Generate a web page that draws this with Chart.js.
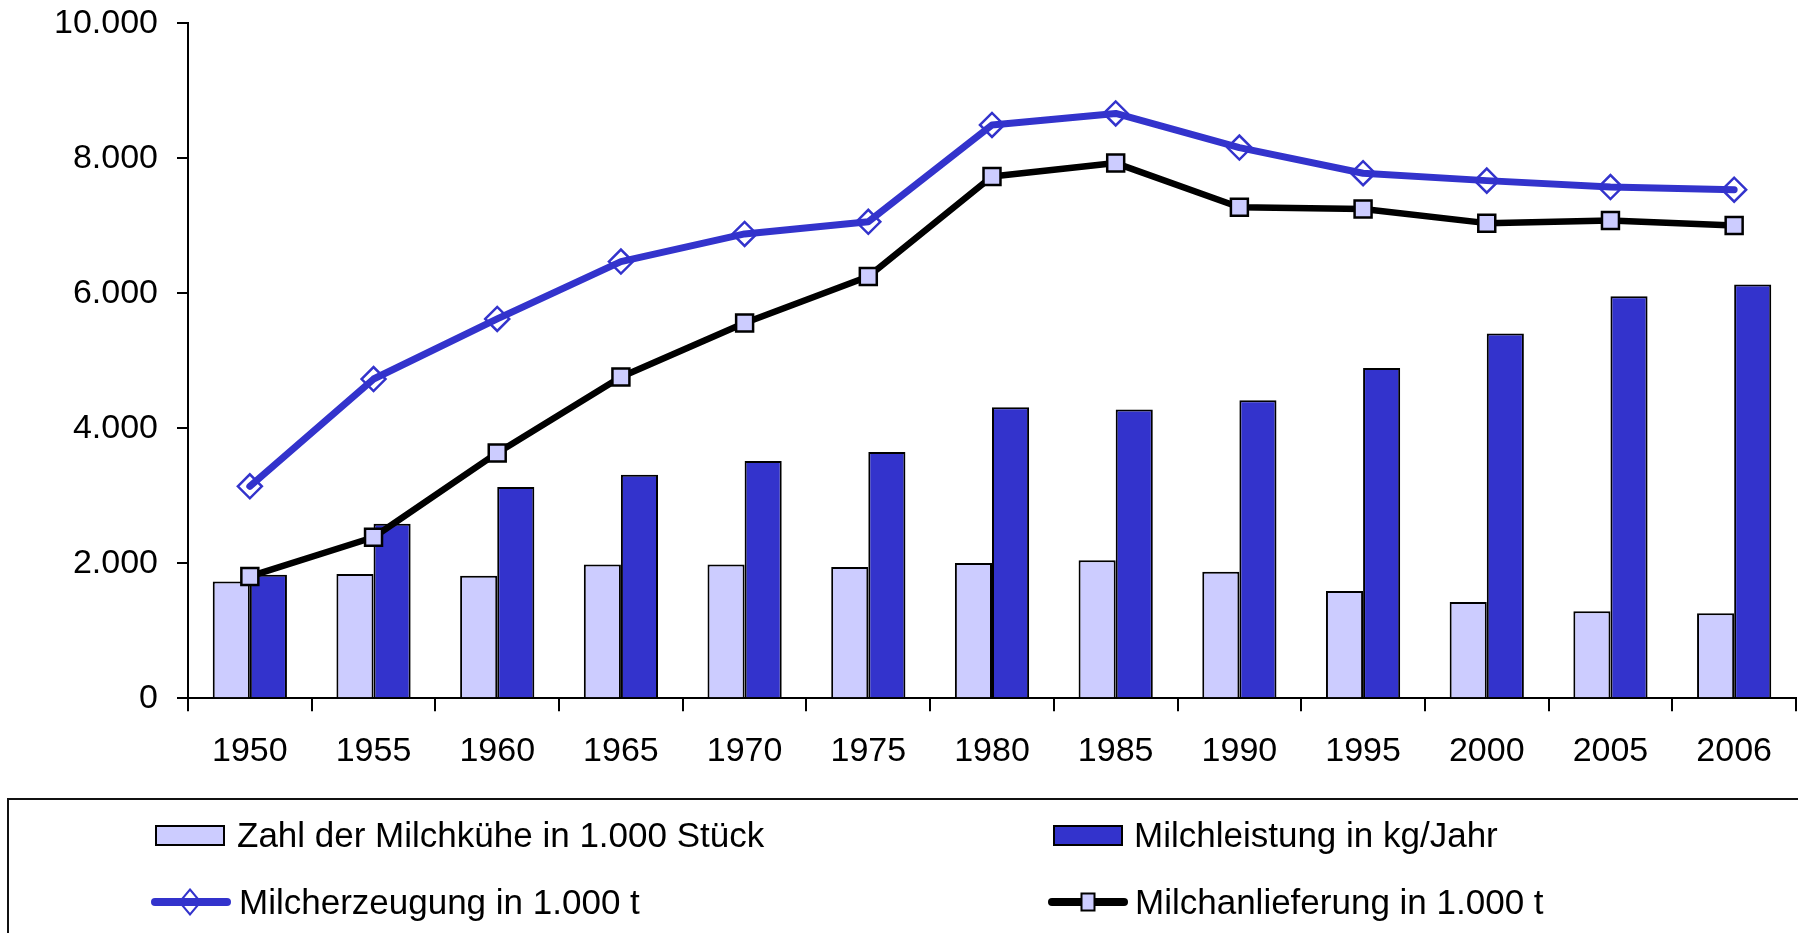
<!DOCTYPE html>
<html>
<head>
<meta charset="utf-8">
<script src="https://cdn.jsdelivr.net/npm/chart.js@4.4.1/dist/chart.umd.min.js"></script>
<style>
  html, body { margin:0; padding:0; background:#fff; }
  #wrap { position:relative; width:1798px; height:933px; overflow:hidden; background:#fff; }
  #c { position:absolute; left:0; top:-16px; }
  #legendBox { position:absolute; left:7px; top:798px; width:1850px; height:200px; box-sizing:border-box; border:2px solid #111; }
  .item { position:absolute; height:40px; display:flex; align-items:center; font-family:'Liberation Sans', Arial, sans-serif; font-size:35px; color:#000; white-space:nowrap; }
  .item .sw { flex:none; }
</style>
</head>
<body>
<div id="wrap">
  <canvas id="c" width="1798" height="949"></canvas>
  <div id="legendBox"></div>
</div>
<script>
// ---- data ----
const categories = ['1950','1955','1960','1965','1970','1975','1980','1985','1990','1995','2000','2005','2006'];
const kuehe      = [1730, 1840, 1815, 1980, 1980, 1945, 2005, 2045, 1875, 1590, 1425, 1290, 1260];
const leistung   = [1830, 2585, 3130, 3310, 3515, 3650, 4310, 4280, 4415, 4895, 5405, 5955, 6130];
const erzeugung  = [3140, 4730, 5620, 6470, 6880, 7060, 8495, 8665, 8160, 7780, 7670, 7575, 7535];
const anlieferung= [1805, 2385, 3635, 4760, 5560, 6250, 7730, 7930, 7275, 7250, 7040, 7080, 7005];
const yTickValues = [0, 2000, 4000, 6000, 8000, 10000];
const yTickLabels = ['0', '2.000', '4.000', '6.000', '8.000', '10.000'];
const seriesNames = ['Zahl der Milchkühe in 1.000 Stück', 'Milchleistung in kg/Jahr', 'Milcherzeugung in 1.000 t', 'Milchanlieferung in 1.000 t'];

const LIGHT = '#CCCCFF', DARK = '#3333CC', BLUE = '#3333CC', BLACK = '#000000';

Chart.defaults.font.family = "'Liberation Sans', Arial, sans-serif";
Chart.defaults.font.size = 34;
Chart.defaults.color = '#000';

const chart = new Chart(document.getElementById('c'), {
  type: 'bar',
  data: {
    labels: categories,
    datasets: [
      { type:'line', label: seriesNames[2], data: erzeugung, order: 0,
        borderColor: BLUE, borderWidth: 7, fill:false, tension:0,
        pointStyle:'rectRot', pointRadius: 12, pointBorderColor: BLUE, pointBackgroundColor:'rgba(0,0,0,0)', pointBorderWidth: 2.5,
        borderCapStyle:'round', borderJoinStyle:'round' },
      { type:'line', label: seriesNames[3], data: anlieferung, order: 0,
        borderColor: BLACK, borderWidth: 6.5, fill:false, tension:0,
        pointStyle:'rect', pointRadius: 12, pointBorderColor: BLACK, pointBackgroundColor: LIGHT, pointBorderWidth: 2.5,
        borderJoinStyle:'round' },
      { label: seriesNames[0], data: kuehe, order: 1, backgroundColor: LIGHT, borderColor: BLACK, borderWidth: 2,
        categoryPercentage: 0.6, barPercentage: 1.0 },
      { label: seriesNames[1], data: leistung, order: 1, backgroundColor: DARK, borderColor: BLACK, borderWidth: 2,
        categoryPercentage: 0.6, barPercentage: 1.0 }
    ]
  },
  options: {
    responsive: false,
    animation: false,
    devicePixelRatio: 1,
    layout: { autoPadding: false, padding: { left: 35, right: 2, top: 2, bottom: 141 } },
    plugins: { legend: { display:false }, tooltip: { enabled:false } },
    scales: {
      x: {
        offset: true,
        grid: { display:true, drawOnChartArea:false, offset:true, tickLength:13, color:'#000', lineWidth:2 },
        border: { display:true, color:'#000', width:2 },
        ticks: { padding: 20, maxRotation:0, autoSkip:false, color:'#000' }
      },
      y: {
        min: 0, max: 10000,
        afterBuildTicks: (axis) => { axis.ticks = yTickValues.map(v => ({ value: v })); },
        grid: { display:true, drawOnChartArea:false, tickLength:11, color:'#000', lineWidth:2 },
        border: { display:true, color:'#000', width:2 },
        ticks: { padding: 19, color:'#000', callback: (v) => { const i = yTickValues.indexOf(v); return i >= 0 ? yTickLabels[i] : ''; } }
      }
    }
  }
});

// ---- HTML legend built from the chart datasets ----
const wrap = document.getElementById('wrap');
const byLabel = {};
chart.data.datasets.forEach(ds => byLabel[ds.label] = ds);
const slots = [
  { name: seriesNames[0], x: 155, y: 815, gap: 12 },
  { name: seriesNames[1], x: 1053, y: 815, gap: 11 },
  { name: seriesNames[2], x: 151, y: 882, gap: 8 },
  { name: seriesNames[3], x: 1048, y: 882, gap: 7 }
];
slots.forEach(s => {
  const ds = byLabel[s.name];
  const el = document.createElement('div');
  el.className = 'item';
  el.style.left = s.x + 'px';
  el.style.top = s.y + 'px';
  let sw;
  if (ds.type === 'line') {
    const svgNS = 'http://www.w3.org/2000/svg';
    sw = document.createElementNS(svgNS, 'svg');
    sw.setAttribute('width', '80'); sw.setAttribute('height', '28');
    const ln = document.createElementNS(svgNS, 'line');
    ln.setAttribute('x1', '4'); ln.setAttribute('x2', '76'); ln.setAttribute('y1', '14'); ln.setAttribute('y2', '14');
    ln.setAttribute('stroke', ds.borderColor); ln.setAttribute('stroke-width', '8'); ln.setAttribute('stroke-linecap', 'round');
    sw.appendChild(ln);
    const mk = document.createElementNS(svgNS, 'polygon');
    if (ds.pointStyle === 'rectRot') {
      mk.setAttribute('points', '39,1.5 49.5,14 39,26.5 28.5,14');
      mk.setAttribute('fill', 'none'); mk.setAttribute('stroke', ds.pointBorderColor); mk.setAttribute('stroke-width', '2');
    } else {
      mk.setAttribute('points', '33.5,5.5 46.5,5.5 46.5,22.5 33.5,22.5');
      mk.setAttribute('fill', ds.pointBackgroundColor); mk.setAttribute('stroke', ds.pointBorderColor); mk.setAttribute('stroke-width', '2');
    }
    sw.appendChild(mk);
  } else {
    sw = document.createElement('div');
    sw.style.width = '70px'; sw.style.height = '21px'; sw.style.boxSizing = 'border-box';
    sw.style.border = '2px solid #000'; sw.style.background = ds.backgroundColor;
  }
  sw.style.marginRight = s.gap + 'px';
  sw.classList.add('sw');
  el.appendChild(sw);
  const t = document.createElement('span');
  t.textContent = ds.label;
  el.appendChild(t);
  wrap.appendChild(el);
});
</script>
</body>
</html>
